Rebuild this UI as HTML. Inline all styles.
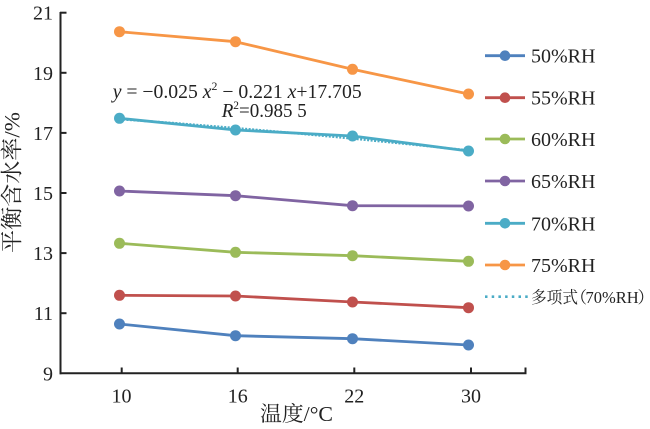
<!DOCTYPE html>
<html>
<head>
<meta charset="utf-8">
<style>
  html,body{margin:0;padding:0;background:#fff;}
  svg{display:block;}
  text{font-family:"Liberation Serif","Noto Serif CJK SC",serif;fill:#222;}
</style>
</head>
<body>
<svg width="650" height="429" viewBox="0 0 650 429" xmlns="http://www.w3.org/2000/svg">
  <rect width="650" height="429" fill="#fff"/>

  <!-- axes -->
  <g stroke="#222" stroke-width="2" fill="none">
    <line x1="60.5" y1="12" x2="60.5" y2="374.3"/>
    <line x1="59.5" y1="373.3" x2="526.5" y2="373.3"/>
    <line x1="60" y1="12.7" x2="66.5" y2="12.7"/>
    <line x1="60" y1="72.8" x2="66.5" y2="72.8"/>
    <line x1="60" y1="132.9" x2="66.5" y2="132.9"/>
    <line x1="60" y1="193" x2="66.5" y2="193"/>
    <line x1="60" y1="253.1" x2="66.5" y2="253.1"/>
    <line x1="60" y1="313.2" x2="66.5" y2="313.2"/>
    <line x1="121.7" y1="373" x2="121.7" y2="367.5"/>
    <line x1="237.7" y1="373" x2="237.7" y2="367.5"/>
    <line x1="354.3" y1="373" x2="354.3" y2="367.5"/>
    <line x1="471" y1="373" x2="471" y2="367.5"/>
    <line x1="525.5" y1="373" x2="525.5" y2="367.5"/>
  </g>

  <!-- y tick labels -->
  <g font-size="20" text-anchor="end">
    <text x="53" y="19.7">21</text>
    <text x="53" y="79.8">19</text>
    <text x="53" y="139.9">17</text>
    <text x="53" y="200">15</text>
    <text x="53" y="260.1">13</text>
    <text x="53" y="320.2">11</text>
    <text x="53" y="380.3">9</text>
  </g>
  <!-- x tick labels -->
  <g font-size="20" text-anchor="middle">
    <text x="121.5" y="402.5">10</text>
    <text x="237.7" y="402.5">16</text>
    <text x="354.3" y="402.5">22</text>
    <text x="471" y="402.5">30</text>
  </g>

  <!-- axis titles -->
  <text x="260" y="421" font-size="21" textLength="73" lengthAdjust="spacingAndGlyphs">温度/°C</text>
  <text transform="translate(19.5,182.5) rotate(-90)" font-size="22" text-anchor="middle" textLength="141" lengthAdjust="spacingAndGlyphs">平衡含水率/%</text>

  <!-- series lines -->
  <g fill="none" stroke-width="2.8" stroke-linejoin="round">
    <polyline stroke="#f79646" points="119.5,31.7 235.5,41.7 352.5,69.3 468.5,94"/>
    <polyline stroke="#4bacc6" points="119.5,118.3 235.5,130 352.5,136 468.5,151"/>
    <polyline stroke="#8064a2" points="119.5,191 235.5,195.7 352.5,205.7 468.5,206"/>
    <polyline stroke="#9bbb59" points="119.5,243.3 235.5,252.3 352.5,255.7 468.5,261.3"/>
    <polyline stroke="#c0504d" points="119.5,295.3 235.5,296 352.5,302 468.5,307.7"/>
    <polyline stroke="#4f81bd" points="119.5,324 235.5,335.7 352.5,338.7 468.5,345"/>
  </g>

  <!-- polynomial trendline -->
  <polyline fill="none" stroke="#4bacc6" stroke-width="2.4" stroke-dasharray="2 1.5"
    points="119.5,119.2 177.7,123.4 235.8,128.1 294,133.1 352.2,138.5 410.3,144.3 468.5,150.4"/>

  <!-- markers -->
  <g>
    <g fill="#f79646"><circle cx="119.5" cy="31.7" r="5.5"/><circle cx="235.5" cy="41.7" r="5.5"/><circle cx="352.5" cy="69.3" r="5.5"/><circle cx="468.5" cy="94" r="5.5"/></g>
    <g fill="#4bacc6"><circle cx="119.5" cy="118.3" r="5.5"/><circle cx="235.5" cy="130" r="5.5"/><circle cx="352.5" cy="136" r="5.5"/><circle cx="468.5" cy="151" r="5.5"/></g>
    <g fill="#8064a2"><circle cx="119.5" cy="191" r="5.5"/><circle cx="235.5" cy="195.7" r="5.5"/><circle cx="352.5" cy="205.7" r="5.5"/><circle cx="468.5" cy="206" r="5.5"/></g>
    <g fill="#9bbb59"><circle cx="119.5" cy="243.3" r="5.5"/><circle cx="235.5" cy="252.3" r="5.5"/><circle cx="352.5" cy="255.7" r="5.5"/><circle cx="468.5" cy="261.3" r="5.5"/></g>
    <g fill="#c0504d"><circle cx="119.5" cy="295.3" r="5.5"/><circle cx="235.5" cy="296" r="5.5"/><circle cx="352.5" cy="302" r="5.5"/><circle cx="468.5" cy="307.7" r="5.5"/></g>
    <g fill="#4f81bd"><circle cx="119.5" cy="324" r="5.5"/><circle cx="235.5" cy="335.7" r="5.5"/><circle cx="352.5" cy="338.7" r="5.5"/><circle cx="468.5" cy="345" r="5.5"/></g>
  </g>

  <!-- equation -->
  <text x="112.7" y="98" font-size="20" textLength="249" lengthAdjust="spacingAndGlyphs"><tspan font-style="italic">y</tspan> = −0.025 <tspan font-style="italic">x</tspan><tspan font-size="12" dy="-8">2</tspan><tspan dy="8"> − 0.221 </tspan><tspan font-style="italic">x</tspan>+17.705</text>
  <text x="221.7" y="117" font-size="20" textLength="85" lengthAdjust="spacingAndGlyphs"><tspan font-style="italic">R</tspan><tspan font-size="12" dy="-8">2</tspan><tspan dy="8">=0.985 5</tspan></text>

  <!-- legend -->
  <g stroke-width="2.8">
    <line x1="485" y1="55.7" x2="525" y2="55.7" stroke="#4f81bd"/>
    <line x1="485" y1="97.7" x2="525" y2="97.7" stroke="#c0504d"/>
    <line x1="485" y1="139" x2="525" y2="139" stroke="#9bbb59"/>
    <line x1="485" y1="181" x2="525" y2="181" stroke="#8064a2"/>
    <line x1="485" y1="223.3" x2="525" y2="223.3" stroke="#4bacc6"/>
    <line x1="485" y1="265" x2="525" y2="265" stroke="#f79646"/>
  </g>
  <circle cx="505" cy="55.7" r="5.3" fill="#4f81bd"/>
  <circle cx="505" cy="97.7" r="5.3" fill="#c0504d"/>
  <circle cx="505" cy="139" r="5.3" fill="#9bbb59"/>
  <circle cx="505" cy="181" r="5.3" fill="#8064a2"/>
  <circle cx="505" cy="223.3" r="5.3" fill="#4bacc6"/>
  <circle cx="505" cy="265" r="5.3" fill="#f79646"/>
  <line x1="485" y1="296.7" x2="528" y2="296.7" stroke="#4bacc6" stroke-width="2.6" stroke-dasharray="2.5 4.2"/>

  <g font-size="20">
    <text x="531" y="62.7">50%RH</text>
    <text x="531" y="104.7">55%RH</text>
    <text x="531" y="146">60%RH</text>
    <text x="531" y="188">65%RH</text>
    <text x="531" y="230.3">70%RH</text>
    <text x="531" y="272">75%RH</text>
  </g>
  <g font-size="16.5">
    <text x="531" y="303" textLength="47" lengthAdjust="spacingAndGlyphs">多项式</text>
    <text x="570.5" y="303">（</text>
    <text x="585.5" y="303">70%RH</text>
    <text x="637.5" y="303">）</text>
  </g>
</svg>
</body>
</html>
